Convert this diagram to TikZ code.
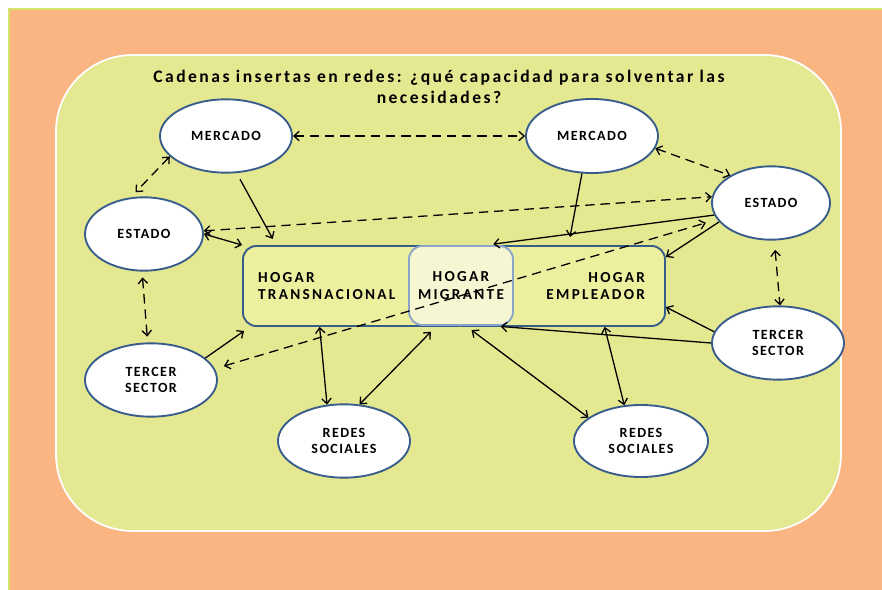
\documentclass[tikz,border=0pt]{standalone}
\usepackage{fontspec}
\setmainfont{Carlito}
\newfontfamily\spacedfont[LetterSpace=10]{Carlito}
\newfontfamily\widefont[LetterSpace=15]{Carlito}
\newfontfamily\titlefont[LetterSpace=14]{Carlito}
\usepackage{tikz}
\usetikzlibrary{arrows,arrows.meta,shapes,positioning}
\usepackage{xcolor}
\definecolor{cdorange}{RGB}{250,181,131}
\definecolor{cdlime}{RGB}{214,226,104}
\definecolor{cdgreen}{RGB}{228,232,145}
\definecolor{cdbox}{RGB}{236,239,158}
\definecolor{cdpale}{RGB}{246,247,210}
\definecolor{cdblue}{RGB}{56,93,138}
\definecolor{cdlightblue}{RGB}{140,164,200}
\tikzstyle{actor} = [ellipse, draw=cdblue, fill=white, line width=1.6pt, minimum width=3.96cm, minimum height=2.2cm, inner sep=0pt, align=center, font=\spacedfont\fontsize{12}{13}\selectfont\bfseries]
\tikzstyle{hogar} = [rectangle, rounded corners=0.4cm, draw=cdblue, fill=cdbox, line width=1.6pt, minimum height=2.4cm, inner sep=0pt, font=\widefont\fontsize{13}{15}\selectfont\bfseries]
\tikzstyle{link} = [line width=1.1pt, >={Straight Barb[length=4.5pt,width=8pt]}]
\tikzstyle{dlink} = [link, <->, dash pattern=on 8pt off 5pt]

\begin{document}
\begin{tikzpicture}[x=0.03cm, y=-0.03cm]
\useasboundingbox (0,0) rectangle (882,590);
% Background
\fill[cdorange] (10,10) rectangle (882,590);
\draw[cdlime, line width=1.5pt] (9,590) -- (9,9) -- (882,9);
\draw[white, line width=1.5pt, fill=cdgreen, rounded corners=2.3cm] (56,55) rectangle (841,531);

% Title
\node[align=center, font=\titlefont\fontsize{15}{18}\selectfont\bfseries] (title) at (439,87)
  {Cadenas insertas en redes: ¿qué capacidad para solventar las\\necesidades?};

% Households
\node[hogar, minimum width=6.81cm, text width=5.9cm, align=left] (trans) at (356.5,286) {HOGAR\\TRANSNACIONAL};
\node[hogar, minimum width=6.45cm, text width=5.25cm, align=right] (empl) at (557.5,286) {HOGAR\\EMPLEADOR};
\node[hogar, draw=cdlightblue, fill=cdpale, minimum width=3.12cm, minimum height=2.37cm, align=center] (migr) at (461,285.5) {HOGAR\\MIGRANTE};

% Actors
\node[actor] (mercL) at (226,136) {MERCADO};
\node[actor, minimum height=2.22cm] (mercR) at (592,136) {MERCADO};
\node[actor, minimum width=3.54cm] (estL) at (144,234) {ESTADO};
\node[actor, minimum width=3.54cm] (estR) at (771,203) {ESTADO};
\node[actor] (terL) at (151,380) {TERCER\\SECTOR};
\node[actor] (terR) at (778,343) {TERCER\\SECTOR};
\node[actor] (redL) at (344,441) {REDES\\SOCIALES};
\node[actor, minimum width=4.02cm, minimum height=2.16cm] (redR) at (641,441) {REDES\\SOCIALES};

% Dashed links
\draw[dlink] (mercL) -- (mercR);
\draw[dlink, shorten >=6pt] (mercL.200) -- (estL.110);
\draw[dlink] (estL.3) -- (estR.174);
\draw[dlink] (mercR.349) -- (estR.146);
\draw[dlink, shorten <=8pt, shorten >=10pt] (terL.10) -- (estR.197);
\draw[dlink, shorten <=5pt, shorten >=5pt] (estL.267) -- (terL.95);
\draw[dlink, shorten <=8pt] (estR.275) -- (terR.87);

% Solid links
\draw[link, ->, shorten <=6pt, shorten >=6pt] (mercL.286) -- (trans.153);
\draw[link, <->] (estL.east) -- (trans.north west);
\draw[link, ->, shorten >=7pt] (mercR.255) -- (empl.75);
\draw[link, ->, shorten >=6pt] (estR.192) -- (migr.58);
\draw[link, ->] (estR.200) -- (empl.15);
\draw[link, ->, shorten >=6pt] (terL.22) -- (trans.201);
\draw[link, <->] (trans.228) -- (redL.115);
\draw[link, <->, shorten <=7pt] (migr.239) -- (redL.67);
\draw[link, <->, shorten <=6pt] (migr.277) -- (redR.156);
\draw[link, <->] (empl.319) -- (redR.115);
\draw[link, ->, shorten >=6pt] (terR.west) -- (migr.309);
\draw[link, ->] (terR.170) -- (empl.349);
\end{tikzpicture}
\end{document}
